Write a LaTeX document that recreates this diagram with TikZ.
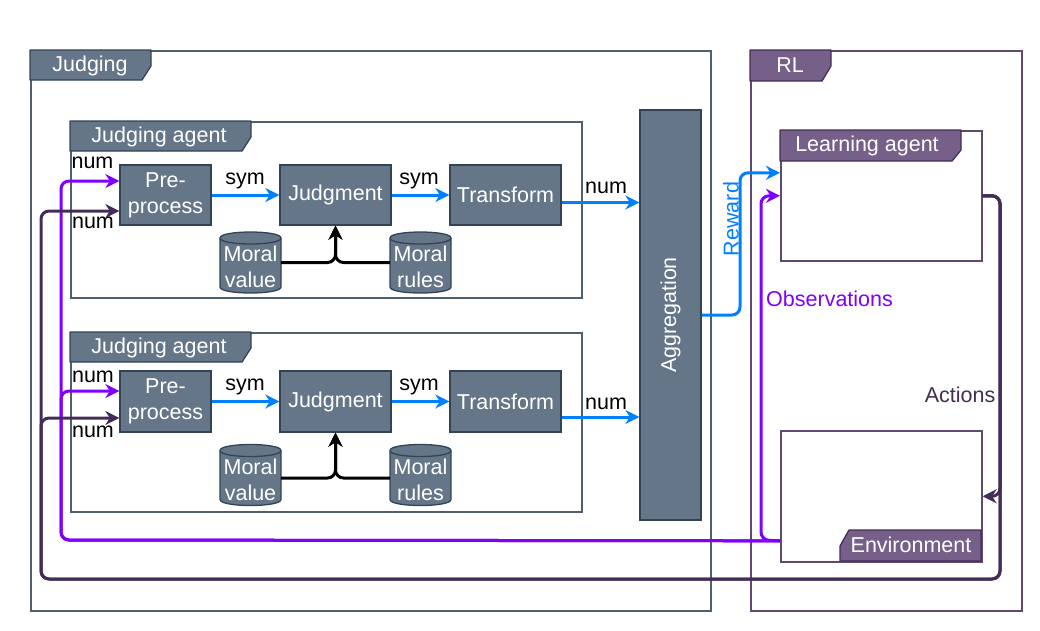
\documentclass[tikz,border=0pt]{standalone}
\usepackage{fontspec}
\setmainfont{Liberation Sans}
\usetikzlibrary{arrows.meta,calc}
\definecolor{gfill}{HTML}{647687}
\definecolor{gstroke}{HTML}{314354}
\definecolor{gframe}{HTML}{4F5F70}
\definecolor{pfill}{HTML}{76608A}
\definecolor{pstroke}{HTML}{432D57}
\definecolor{pframe}{HTML}{5F4A74}
\definecolor{rblue}{HTML}{007FFF}
\definecolor{obsc}{HTML}{7F00FF}
\newcommand\drawcyl[4]{%
  \pgfmathsetmacro\cxa{#2-30.5}%
  \pgfmathsetmacro\cxb{#2+30.5}%
  \pgfmathsetmacro\cya{#3-24.5}%
  \pgfmathsetmacro\cyb{#3+24.5}%
  \draw[cylsty] (\cxa,\cya) -- (\cxa,\cyb) .. controls (\cxa,\cyb+8) and (\cxb,\cyb+8) .. (\cxb,\cyb) -- (\cxb,\cya) .. controls (\cxb,\cya-8) and (\cxa,\cya-8) .. (\cxa,\cya) -- cycle;
  \draw[cylsty,fill=none] (\cxa,\cya) .. controls (\cxa,\cya+8) and (\cxb,\cya+8) .. (\cxb,\cya);
  \node[cylshape] (#1) at (#2,#3) {};
  \node[cyltext] at (#2,#3+4.5) {#4};
}
\begin{document}
\begin{tikzpicture}[x=1pt,y=-1pt,
  font=\fontsize{21.5}{26}\selectfont,
  frameg/.style={draw=gframe, line width=1.6pt, inner sep=0pt, anchor=north west},
  framep/.style={draw=pframe, line width=1.6pt, inner sep=0pt, anchor=north west},
  tabg/.style={draw=gstroke, fill=gfill, line width=1.3pt, line join=round},
  tabp/.style={draw=pstroke, fill=pfill, line width=1.3pt, line join=round},
  tabtext/.style={text=white, inner sep=0pt},
  procbox/.style={draw=gstroke, fill=gfill, line width=1.3pt, text=white, align=center, inner sep=0pt},
  cylsty/.style={draw=gstroke, fill=gfill, line width=1.3pt},
  cylshape/.style={minimum width=61pt, minimum height=61pt, inner sep=0pt},
  cyltext/.style={text=white, align=center, inner sep=0pt},
  lbl/.style={inner sep=0pt, text=black},
  tip/.style={-{Stealth[length=14pt,width=14pt,inset=4.5pt]}},
  conn/.style={line width=3pt, rounded corners=8pt, tip},
  blueconn/.style={conn, draw=rblue},
  blkconn/.style={conn, draw=black},
  obsconn/.style={conn, draw=obsc},
  actconn/.style={conn, draw=pstroke},
]
\useasboundingbox (0,0) rectangle (1040,630);

% ---------- frames ----------
\node[frameg, minimum width=680pt, minimum height=560pt] (judging) at (30,50) {};
\draw[tabg] (30,50) -- (151,50) -- (151,66) -- (142,80) -- (30,80) -- cycle;
\node[tabtext] (judginglbl) at (90,65.5) {Judging};

\node[framep, minimum width=271pt, minimum height=560pt] (rl) at (750,50) {};
\draw[tabp] (750,50) -- (831,50) -- (831,66) -- (822,81) -- (750,81) -- cycle;
\node[tabtext] (rllbl) at (790,65.5) {RL};

% judging agent 1
\node[frameg, minimum width=511pt, minimum height=176pt] (ja1) at (70,121) {};
\draw[tabg] (70,121) -- (251,121) -- (251,137) -- (242,151) -- (70,151) -- cycle;
\node[tabtext] (ja1lbl) at (159,137) {Judging agent};

% judging agent 2
\node[frameg, minimum width=511pt, minimum height=179pt] (ja2) at (70,332) {};
\draw[tabg] (70,332) -- (251,332) -- (251,348) -- (242,362) -- (70,362) -- cycle;
\node[tabtext] (ja2lbl) at (159,347.5) {Judging agent};

% learning agent
\node[framep, minimum width=201pt, minimum height=130pt] (la) at (780,130) {};
\draw[tabp] (780,130) -- (961,130) -- (961,150) -- (952,161) -- (780,161) -- cycle;
\node[tabtext] (lalbl) at (867,145.5) {Learning agent};

% environment
\node[framep, minimum width=201pt, minimum height=131pt] (env) at (780,430) {};
\draw[tabp] (840,561) -- (840,546) -- (849,530) -- (981,530) -- (981,561) -- cycle;
\node[tabtext] (envlbl) at (911,545) {Environment};

% ---------- boxes ----------
\node[procbox, minimum width=91pt, minimum height=60pt] (p1) at (165.5,195) {Pre-\\process};
\node[procbox, minimum width=111pt, minimum height=60pt] (j1) at (335.5,195) {\raisebox{-1.5pt}{Judgment}};
\node[procbox, minimum width=111pt, minimum height=60pt] (t1) at (505.5,195) {Transform};
\drawcyl{mv1}{250.5}{262.5}{Moral\\value}
\drawcyl{mr1}{420.5}{262.5}{Moral\\rules}

\node[procbox, minimum width=91pt, minimum height=61pt] (p2) at (165.5,401.5) {Pre-\\process};
\node[procbox, minimum width=111pt, minimum height=61pt] (j2) at (335.5,401.5) {\raisebox{-1.5pt}{Judgment}};
\node[procbox, minimum width=111pt, minimum height=61pt] (t2) at (505.5,401.5) {Transform};
\drawcyl{mv2}{250.5}{475}{Moral\\value}
\drawcyl{mr2}{420.5}{475}{Moral\\rules}

\node[procbox, minimum width=61pt, minimum height=410pt] (agg) at (670.5,315) {};
\node[tabtext, rotate=90] (agglbl) at (agg.center) {Aggregation};

% ---------- connectors inside agents ----------
\draw[blueconn] (p1.east) -- (j1.west);
\draw[blueconn] (j1.east) -- (t1.west);
\draw[blkconn] (mv1.east) -| (j1.south);
\draw[blkconn] (mr1.west) -| (j1.south);
\node[lbl] (s11) at (245,181) {sym};
\node[lbl] (s12) at (419,181) {sym};

\draw[blueconn] (p2.east) -- (j2.west);
\draw[blueconn] (j2.east) -- (t2.west);
\draw[blkconn] ([yshift=-3pt]mv2.east) -| (j2.south);
\draw[blkconn] ([yshift=-3pt]mr2.west) -| (j2.south);
\node[lbl] (s21) at (245,387) {sym};
\node[lbl] (s22) at (419,387) {sym};

% transform -> aggregation
\draw[blueconn] ([yshift=-7.5pt]t1.east) -- ([yshift=-7.5pt]t1.east -| agg.west);
\draw[blueconn] ([yshift=-15.5pt]t2.east) -- ([yshift=-15.5pt]t2.east -| agg.west);
\node[lbl] (n1) at (606,188) {num};
\node[lbl] (n2) at (606,404) {num};

% reward
\coordinate (rwx) at (740,315);
\draw[blueconn] (agg.east) -- (rwx) |- ([yshift=23pt]la.west);
\node[lbl, text=rblue, rotate=90] (rwlbl) at (731,219) {Reward};

% observations
\coordinate (obsL) at (61,540);
\coordinate (obsR) at (761,540);
\coordinate (envin) at ([yshift=-44.5pt]env.west);
\draw[obsconn] (envin) -- (obsL) |- ([yshift=14pt]p1.west);
\draw[obsconn] (envin) -- (obsL) |- ([yshift=10.5pt]p2.west);
\draw[obsconn] (envin) -- (obsR) |- (la.west);
\node[lbl, text=obsc, anchor=west] (obslbl) at (766,299) {Observations};

% actions
\coordinate (actR) at (1000,579);
\coordinate (actL) at (41,579);
\draw[actconn] (la.east) -| (actR) -- (actL) |- ([yshift=-16pt]p1.west);
\draw[actconn] (la.east) -| (actR) -- (actL) |- ([yshift=-16.5pt]p2.west);
\draw[actconn] (la.east) -| (actR |- env.east) -- (env.east);
\node[lbl, text=pstroke] (actlbl) at (960,394.5) {Actions};

\node[lbl] (n11) at (92.5,163) {num};
\node[lbl] (n12) at (93,223) {num};
\node[lbl] (n21) at (93,377) {num};
\node[lbl] (n22) at (93,432) {num};
\end{tikzpicture}
\end{document}
